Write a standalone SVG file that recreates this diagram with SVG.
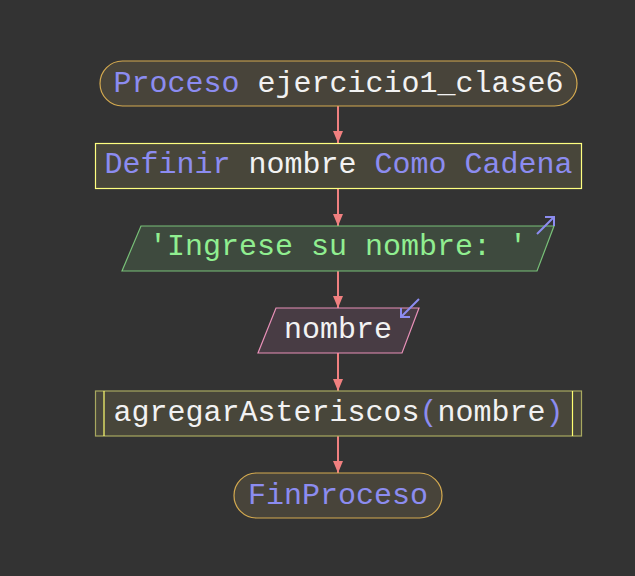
<svg xmlns="http://www.w3.org/2000/svg" width="635" height="576" viewBox="0 0 635 576">
  <defs>
    <style>
      .t { font-family: "Liberation Mono", "DejaVu Sans Mono", monospace; font-size: 30px; text-anchor: middle; }
      .kw { fill: #8c8cf0; }
      .id { fill: #f2f2f2; }
      .str { fill: #90ee90; }
      .term { fill: #48443a; stroke: #d4aa50; stroke-width: 1.2; }
      .proc { fill: #48463a; stroke: #ffff80; stroke-width: 1.2; }
      .out { fill: #3e4a3e; stroke: #78c078; stroke-width: 1.2; }
      .in { fill: #483c44; stroke: #e890b8; stroke-width: 1.2; }
      .call { fill: #48463a; stroke: #a8a860; stroke-width: 1.2; }
      .bar { stroke: #ffff70; stroke-width: 1.2; }
      .flow { stroke: #f08080; stroke-width: 2; fill: none; }
      .io { stroke: #8c8cf0; stroke-width: 2; fill: none; }
    </style>
    <marker id="head" viewBox="0 0 12 10" refX="12" refY="5" markerWidth="12" markerHeight="10" markerUnits="userSpaceOnUse" orient="auto">
      <path d="M0,0 L12,5 L0,10 Z" fill="#f08080"/>
    </marker>
  </defs>

  <rect width="635" height="576" fill="#333333"/>

  <!-- connectors -->
  <g id="connectors">
    <line class="flow" x1="338" y1="106" x2="338" y2="143" marker-end="url(#head)"/>
    <line class="flow" x1="338" y1="188" x2="338" y2="226" marker-end="url(#head)"/>
    <line class="flow" x1="338" y1="271" x2="338" y2="308" marker-end="url(#head)"/>
    <line class="flow" x1="338" y1="353" x2="338" y2="391" marker-end="url(#head)"/>
    <line class="flow" x1="338" y1="436" x2="338" y2="473" marker-end="url(#head)"/>
  </g>

  <!-- start terminal -->
  <g id="start">
    <rect class="term" x="100" y="61" width="477" height="45" rx="22.5" ry="22.5"/>
    <text class="t" x="338.5" y="92"><tspan class="kw">Proceso</tspan><tspan class="id"> ejercicio1_clase6</tspan></text>
  </g>

  <!-- variable definition -->
  <g id="define">
    <rect class="proc" x="95.5" y="143.5" width="486" height="45"/>
    <text class="t" x="338.5" y="173"><tspan class="kw">Definir</tspan><tspan class="id"> nombre </tspan><tspan class="kw">Como Cadena</tspan></text>
  </g>

  <!-- output: prompt -->
  <g id="prompt">
    <polygon class="out" points="141,226 554,226 537,271 122,271"/>
    <path class="io" d="M537,234 L554,217 M545,217 L554,217 L554,226"/>
    <text class="t str" x="338" y="255">'Ingrese su nombre: '</text>
  </g>

  <!-- input: read name -->
  <g id="read">
    <polygon class="in" points="276,308 419,308 402,353 258,353"/>
    <path class="io" d="M419,299 L401,317 M401,308 L401,317 L410,317"/>
    <text class="t id" x="338" y="338">nombre</text>
  </g>

  <!-- subprocess call -->
  <g id="call">
    <rect class="call" x="95.5" y="391" width="486" height="45"/>
    <line class="bar" x1="104" y1="391" x2="104" y2="436"/>
    <line class="bar" x1="572.5" y1="391" x2="572.5" y2="436"/>
    <text class="t" x="338.5" y="421"><tspan class="id">agregarAsteriscos</tspan><tspan class="kw">(</tspan><tspan class="id">nombre</tspan><tspan class="kw">)</tspan></text>
  </g>

  <!-- end terminal -->
  <g id="end">
    <rect class="term" x="234" y="473" width="208" height="45" rx="22.5" ry="22.5"/>
    <text class="t kw" x="338" y="504">FinProceso</text>
  </g>
</svg>
